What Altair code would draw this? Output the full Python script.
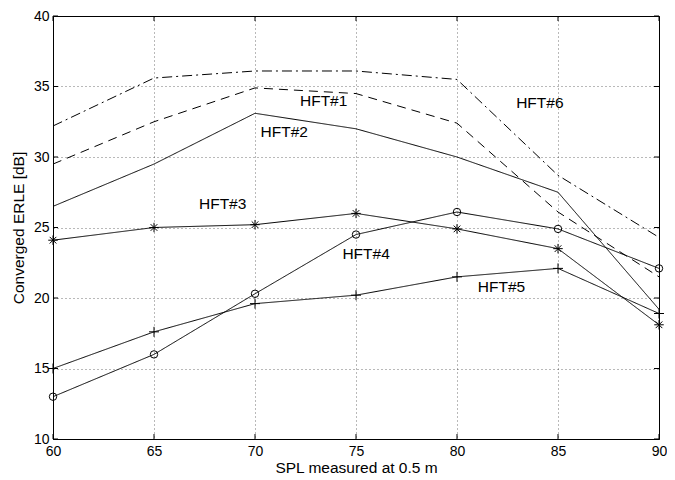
import altair as alt
import pandas as pd

# ---- data ----
x_vals = [60, 65, 70, 75, 80, 85, 90]
series_names = ["HFT#1", "HFT#2", "HFT#3", "HFT#4", "HFT#5", "HFT#6"]
hft1 = [29.5, 32.5, 34.9, 34.5, 32.4, 26.1, 21.5]
hft2 = [26.5, 29.5, 33.1, 32.0, 30.0, 27.5, 19.2]
hft3 = [24.1, 25.0, 25.2, 26.0, 24.9, 23.5, 18.1]
hft4 = [13.0, 16.0, 20.3, 24.5, 26.1, 24.9, 22.1]
hft5 = [15.0, 17.6, 19.6, 20.2, 21.5, 22.1, 18.9]
hft6 = [32.2, 35.6, 36.1, 36.1, 35.5, 28.7, 24.3]

label_text = ["HFT#1", "HFT#2", "HFT#3", "HFT#4", "HFT#5", "HFT#6"]
label_x = [73.4, 71.45, 68.4, 75.5, 82.2, 84.1]
label_y = [33.95, 31.8, 26.7, 23.15, 20.8, 33.85]

x_ticks = [60, 65, 70, 75, 80, 85, 90]
y_ticks = [10, 15, 20, 25, 30, 35, 40]

rows = []
for name, vals in zip(series_names, [hft1, hft2, hft3, hft4, hft5, hft6]):
    for xv, yv in zip(x_vals, vals):
        rows.append({"series": name, "x": xv, "y": yv})
df = pd.DataFrame(rows)
labels_df = pd.DataFrame({"label": label_text, "x": label_x, "y": label_y})
xt_df = pd.DataFrame({"x": x_ticks})
yt_df = pd.DataFrame({"y": y_ticks})

W, H = 606, 423
FONT = "Liberation Sans"
xs = alt.Scale(domain=[60, 90], nice=False, zero=False)
ys = alt.Scale(domain=[10, 40], nice=False, zero=False)

x_axis = alt.Axis(values=x_ticks, title="SPL measured at 0.5 m", grid=True,
                  ticks=False, labelPadding=5, titlePadding=2, format="d",
                  labelFlush=False)
y_axis = alt.Axis(values=y_ticks, title="Converged ERLE [dB]", grid=True,
                  ticks=False, labelPadding=4, titlePadding=7, format="d",
                  labelFlush=False)

X = alt.X("x:Q", scale=xs, axis=x_axis)
Y = alt.Y("y:Q", scale=ys, axis=y_axis)

lines = alt.Chart(df).mark_line(color="black", strokeWidth=1).encode(
    x=X,
    y=Y,
    detail="series:N",
    strokeDash=alt.StrokeDash(
        "series:N",
        scale=alt.Scale(domain=series_names,
                        range=[[9, 6], [1, 0], [1, 0], [1, 0], [1, 0], [10, 4, 2, 4]]),
        legend=None,
    ),
)

star_path = "M-1,0L1,0M0,-1L0,1M-0.7,-0.7L0.7,0.7M-0.7,0.7L0.7,-0.7"
plus_path = "M-1,0L1,0M0,-1L0,1"

def markers(name, shape, size):
    return alt.Chart(df).transform_filter(alt.datum.series == name).mark_point(
        filled=False, color="black", strokeWidth=1, opacity=1, shape=shape, size=size
    ).encode(x=X, y=Y)

stars = markers("HFT#3", star_path, 90)
circles = markers("HFT#4", "circle", 55)
pluses = markers("HFT#5", plus_path, 100)

texts = alt.Chart(labels_df).mark_text(
    font=FONT, fontSize=15.5, align="center", baseline="middle", color="black"
).encode(x=X, y=Y, text="label:N")

tick_len = 5
xt_bottom = alt.Chart(xt_df).mark_rule(color="black", strokeWidth=1).encode(
    x=X, y=alt.value(H), y2=alt.value(H - tick_len))
xt_top = alt.Chart(xt_df).mark_rule(color="black", strokeWidth=1).encode(
    x=X, y=alt.value(0), y2=alt.value(tick_len))
yt_left = alt.Chart(yt_df).mark_rule(color="black", strokeWidth=1).encode(
    y=Y, x=alt.value(0), x2=alt.value(tick_len))
yt_right = alt.Chart(yt_df).mark_rule(color="black", strokeWidth=1).encode(
    y=Y, x=alt.value(W), x2=alt.value(W - tick_len))

chart = alt.layer(
    lines, stars, circles, pluses, texts, xt_bottom, xt_top, yt_left, yt_right
).properties(
    width=W, height=H,
    autosize=alt.AutoSizeParams(type="none"),
    padding={"left": 45, "top": 8, "right": 8, "bottom": 38},
    background="white",
).configure_view(
    stroke="black", strokeWidth=1
).configure_axis(
    domainColor="black", domainWidth=1,
    gridColor="black", gridDash=[1, 3], gridOpacity=0.55, gridWidth=1,
    labelFont=FONT, labelFontSize=14, labelColor="black",
    titleFont=FONT, titleFontSize=15.5, titleFontWeight="normal", titleColor="black",
)

chart.save("out.html", embed_options={"renderer": "svg", "actions": False})
